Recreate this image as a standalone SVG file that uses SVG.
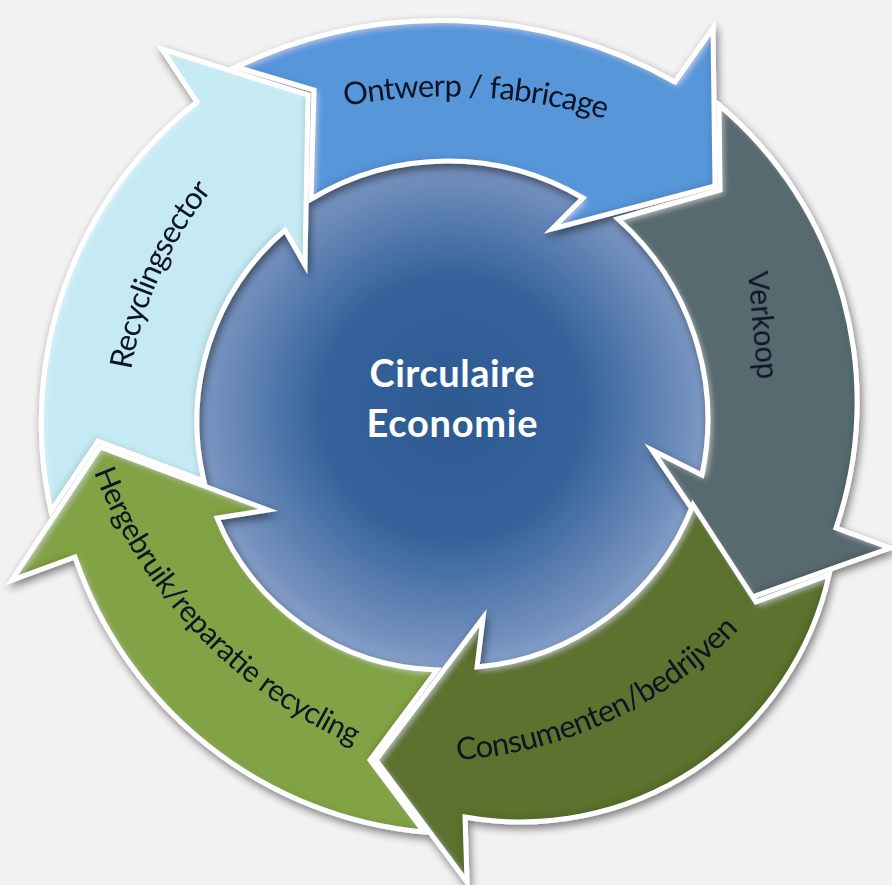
<svg xmlns="http://www.w3.org/2000/svg" xmlns:xlink="http://www.w3.org/1999/xlink" width="892" height="885" viewBox="0 0 892 885">
<defs>
<style>
.lbl{font-family:Lato,"Liberation Sans",sans-serif;font-size:31px;fill:#0d1424}
.ctr{font-family:Lato,"Liberation Sans",sans-serif;font-size:38px;font-weight:700;fill:#ffffff}
.fill{filter:url(#bevel)}
.outline{fill:none;stroke:#ffffff;stroke-width:5;stroke-linejoin:miter}
</style>
<radialGradient id="core" gradientUnits="userSpaceOnUse" cx="452" cy="408" r="290">
<stop offset="0" stop-color="#2e5a92"/>
<stop offset="0.45" stop-color="#35629b"/>
<stop offset="0.83" stop-color="#7592bf"/>
<stop offset="1" stop-color="#9fb6d8"/>
</radialGradient>
<filter id="shadow" x="-10%" y="-10%" width="120%" height="120%">
<feGaussianBlur in="SourceAlpha" stdDeviation="4"/>
<feOffset dx="2" dy="4" result="o"/>
<feComponentTransfer><feFuncA type="linear" slope="0.5"/></feComponentTransfer>
<feMerge><feMergeNode/><feMergeNode in="SourceGraphic"/></feMerge>
</filter>
<filter id="bevel" x="-5%" y="-5%" width="110%" height="110%">
<feGaussianBlur in="SourceAlpha" stdDeviation="3" result="blur"/>
<feOffset in="blur" dx="3" dy="3" result="ob1"/>
<feComposite in="SourceAlpha" in2="ob1" operator="arithmetic" k2="1" k3="-1" result="hl"/>
<feFlood flood-color="#ffffff" flood-opacity="0.45"/>
<feComposite in2="hl" operator="in" result="hlc"/>
<feOffset in="blur" dx="-3" dy="-3" result="ob2"/>
<feComposite in="SourceAlpha" in2="ob2" operator="arithmetic" k2="1" k3="-1" result="sh"/>
<feFlood flood-color="#000000" flood-opacity="0.3"/>
<feComposite in2="sh" operator="in" result="shc"/>
<feMerge><feMergeNode in="SourceGraphic"/><feMergeNode in="hlc"/><feMergeNode in="shc"/></feMerge>
</filter>
<path id="p1" d="M236,67 A475,475 0 0 1 675,82 L713,28 L715,186 L552,229 L583,198 A265,265 0 0 0 311,199 L314,90 Z"/>
<path id="p2" d="M719,105 A388,388 0 0 1 836,528 L890,548 L752,597 L652,450 L702,475 A268,268 0 0 0 618,219 L720,190 Z"/>
<path id="p3" d="M829,575 A316,316 0 0 1 465,817 L467,882 L376,760 L483,618 L477,667 A255,255 0 0 0 693,505 L756,602 Z"/>
<path id="p4" d="M424,832 A408,408 0 0 1 75,557 L12,580 L100,447 L268,510 L217,518 A245,245 0 0 0 437,670 L370,760 Z"/>
<path id="p5" d="M51,511 A408,408 0 0 1 197,102 L162,49 L308,95 L305,265 L285,230 A252,252 0 0 0 204,481 L98,441 Z"/>
<path id="tp1" d="M345,106 A562,562 0 0 1 640,130.3"/>
<path id="tp3" d="M457,760 A430,430 0 0 0 768.8,594.7"/>
<path id="tp4" d="M94,472 A490,490 0 0 0 425.2,770.3"/>
<path id="tp5" d="M131,370 A400,400 0 0 1 237.3,161"/>
</defs>
<rect x="0" y="0" width="892" height="885" fill="#f2f2f2"/>
<g id="node-center">
<circle cx="450" cy="422" r="282" fill="url(#core)"/>
<text class="ctr" x="452" y="387" text-anchor="middle" textLength="165">Circulaire</text>
<text class="ctr" x="452" y="437" text-anchor="middle" textLength="171">Economie</text>
</g>
<g id="cycle" filter="url(#shadow)">
<g id="node-ontwerp">
<use xlink:href="#p1" class="fill" fill="#5896da"/>
<use xlink:href="#p1" class="outline"/>
</g>
<g id="node-verkoop">
<use xlink:href="#p2" class="fill" fill="#566a70"/>
<use xlink:href="#p2" class="outline"/>
</g>
<g id="node-consumenten">
<use xlink:href="#p3" class="fill" fill="#5c722e"/>
<use xlink:href="#p3" class="outline"/>
</g>
<g id="node-hergebruik">
<use xlink:href="#p4" class="fill" fill="#82a344"/>
<use xlink:href="#p4" class="outline"/>
</g>
<g id="node-recycling">
<use xlink:href="#p5" class="fill" fill="#c5eaf4"/>
<use xlink:href="#p5" class="outline"/>
</g>
</g>
<g id="labels">
<text class="lbl"><textPath xlink:href="#tp1" textLength="263">Ontwerp / fabricage</textPath></text>
<text transform="translate(748,272) rotate(85)" style="font-family:'Liberation Sans',Arial,sans-serif;font-size:29.5px;fill:#0d1424">Verkoop</text>
<text class="lbl"><textPath xlink:href="#tp3" textLength="318">Consumenten/bedrijven</textPath></text>
<text class="lbl" style="font-size:30px"><textPath xlink:href="#tp4" textLength="387">Hergebruik/reparatie recycling</textPath></text>
<text class="lbl"><textPath xlink:href="#tp5" textLength="199">Recyclingsector</textPath></text>
</g>
</svg>
